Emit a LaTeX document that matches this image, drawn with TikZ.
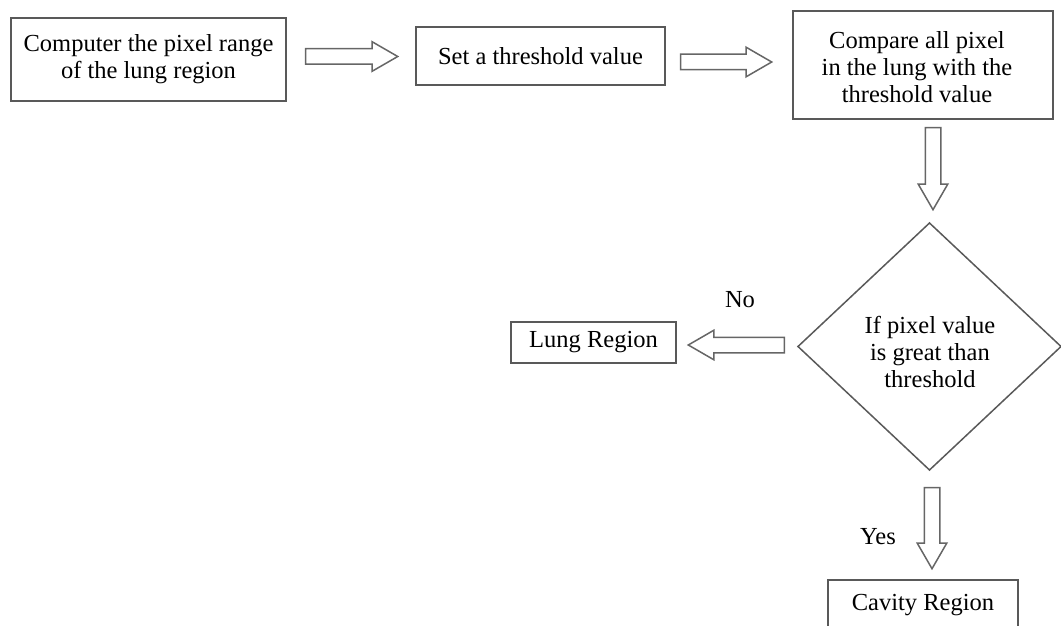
\documentclass[tikz,border=0pt]{standalone}
\usepackage{fontspec}
\setmainfont{Liberation Serif}
\usetikzlibrary{shapes.geometric,shapes.arrows}
\begin{document}
\begin{tikzpicture}[x=1pt,y=-1pt,
  every node/.style={font=\fontsize{24.5}{27}\selectfont, text=black},
  procbox/.style={draw=black!65, line width=1.7pt, rectangle, inner sep=0pt, outer sep=0pt, align=center},
  decision/.style={draw=black!65, line width=1.5pt, diamond, inner sep=0pt, outer sep=0pt, align=center},
  blockarrow/.style={single arrow, draw=black!60, line width=1.5pt, fill=white,
    inner xsep=0pt, inner ysep=7pt, outer sep=0pt, minimum width=28pt,
    single arrow head extend=7pt, single arrow tip angle=60},
  tag/.style={inner sep=0pt}
]
\useasboundingbox (0,0) rectangle (1061,626);

% process steps
\node[procbox, minimum width=275pt, minimum height=83pt] (range) at (148.5,59.5)
  {Computer the pixel range\\of the lung region};
\node[procbox, minimum width=249pt, minimum height=58pt] (thresh) at (540.5,56)
  {Set a threshold value};
\node[procbox, minimum width=260pt, minimum height=108pt] (compare) at (923,65) {};
\node[tag, align=center] (comparetext) at (917,67)
  {Compare all pixel\\in the lung with the\\threshold value};

% decision
\node[decision, minimum width=263pt, minimum height=247pt] (test) at (929.5,346.5) {};
\node[tag, align=center] (testtext) at (930,352) {If pixel value\\is great than\\threshold};

% outcomes
\node[procbox, minimum width=165pt, minimum height=41pt] (lung) at (593.5,342.5) {Lung Region};
\node[procbox, minimum width=190pt, minimum height=50pt] (cavity) at (923,605) {Cavity Region};

% hollow block arrows between the steps
\node[blockarrow, minimum height=92pt] (a1) at (345,56.5) {};
\node[blockarrow, minimum height=91pt] (a2) at (719.5,62) {};
\node[blockarrow, minimum height=82pt, rotate=-90] (a3) at (933,162) {};
\node[blockarrow, minimum height=96pt, rotate=180] (a4) at (743,345) {};
\node[blockarrow, minimum height=81pt, rotate=-90] (a5) at (932,521.5) {};

% branch labels
\node[tag] (no) at (740,300) {No};
\node[tag] (yes) at (878,537) {Yes};
\end{tikzpicture}
\end{document}
